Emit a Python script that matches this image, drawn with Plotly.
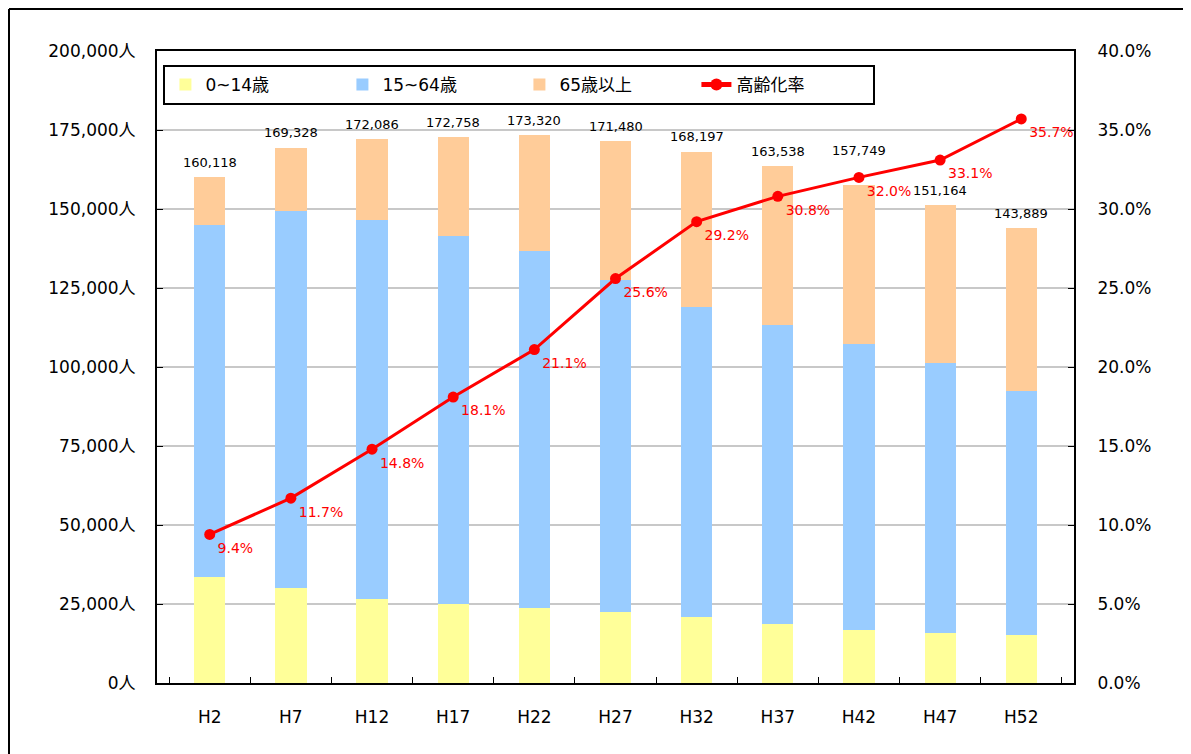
import plotly.graph_objects as go

categories = ["H2", "H7", "H12", "H17", "H22", "H27", "H32", "H37", "H42", "H47", "H52"]
age_0_14 = [33544, 29968, 26487, 24905, 23639, 22563, 20791, 18576, 16772, 15728, 15095]
age_15_64 = [111523, 119549, 120130, 116584, 113110, 105018, 98292, 94592, 90497, 85401, 77426]
age_65_over = [15051, 19811, 25469, 31269, 36571, 43899, 49114, 50370, 50480, 50035, 51368]
totals = [160118, 169328, 172086, 172758, 173320, 171480, 168197, 163538, 157749, 151164, 143889]
aging_rate = [9.4, 11.7, 14.8, 18.1, 21.1, 25.6, 29.2, 30.8, 32.0, 33.1, 35.7]
left_ticks = [0, 25000, 50000, 75000, 100000, 125000, 150000, 175000, 200000]
right_ticks = [0, 5, 10, 15, 20, 25, 30, 35, 40]

FONT = "DejaVu Sans, Noto Sans CJK JP"

# page body has an 8px margin; figure sized to fit the 1191x754 window
W, H = 1183, 746
L, T, R, B = 149, 43, 117, 71
PW, PH = W - L - R, H - T - B

fig = go.Figure()
fig.add_trace(go.Bar(x=categories, y=age_0_14, name="0~14歳",
                     marker=dict(color="#FFFF99", line=dict(width=0))))
fig.add_trace(go.Bar(x=categories, y=age_15_64, name="15~64歳",
                     marker=dict(color="#99CCFF", line=dict(width=0))))
fig.add_trace(go.Bar(x=categories, y=age_65_over, name="65歳以上",
                     marker=dict(color="#FFCC99", line=dict(width=0))))
fig.add_trace(go.Scatter(x=categories, y=aging_rate, name="高齢化率", yaxis="y2",
                         mode="lines+markers+text",
                         line=dict(color="#FF0000", width=3),
                         marker=dict(color="#FF0000", size=11, symbol="circle"),
                         text=[f"{v:.1f}%" for v in aging_rate],
                         textposition="bottom right",
                         textfont=dict(color="#FF0000", size=14, family=FONT)))

for c, t in zip(categories, totals):
    shift = 34 if c == "H42" else 15
    fig.add_annotation(x=c, y=t, text=f"{t:,}", showarrow=False, yshift=shift,
                       font=dict(size=13, color="#000000", family=FONT))

fig.update_layout(
    width=W, height=H,
    margin=dict(l=L, r=R, t=T, b=B),
    barmode="stack", bargap=0.615,
    paper_bgcolor="white", plot_bgcolor="white",
    font=dict(family=FONT, size=16, color="#000000"),
    showlegend=True,
    legend=dict(orientation="h", x=0.007, y=0.978, xanchor="left", yanchor="top",
                bordercolor="#000000", borderwidth=2, bgcolor="white",
                font=dict(size=17, family=FONT),
                entrywidth=132, entrywidthmode="pixels",
                traceorder="normal", itemsizing="constant"),
    xaxis=dict(showline=True, linecolor="#000000", linewidth=2, mirror=True,
               ticks="inside", ticklen=6, tickcolor="#000000", tickson="boundaries",
               ticklabelstandoff=18,
               tickfont=dict(size=17, family=FONT), showgrid=False),
    yaxis=dict(range=[0, 200000], tickvals=left_ticks,
               ticktext=[f"{v:,}人" for v in left_ticks],
               showline=True, linecolor="#000000", linewidth=2,
               ticks="inside", ticklen=6, tickcolor="#000000",
               ticklabelstandoff=16,
               showgrid=True, gridcolor="#C8C8C8", gridwidth=2,
               tickfont=dict(size=17, family=FONT), zeroline=False),
    yaxis2=dict(range=[0, 40], tickvals=right_ticks,
                ticktext=[f"{v:.1f}%" for v in right_ticks],
                overlaying="y", side="right",
                showline=True, linecolor="#000000", linewidth=2,
                ticks="inside", ticklen=6, tickcolor="#000000",
                ticklabelstandoff=18,
                showgrid=False, zeroline=False,
                tickfont=dict(size=17, family=FONT)),
)

# outer frame lines (visible top and left edges)
fx0 = (1 - L) / PW
fy0 = (H - B - 1) / PH
fig.add_shape(type="line", xref="paper", yref="paper",
              x0=fx0, x1=(W - L) / PW, y0=fy0, y1=fy0,
              line=dict(color="#000000", width=2))
fig.add_shape(type="line", xref="paper", yref="paper",
              x0=fx0, x1=fx0, y0=fy0, y1=-B / PH,
              line=dict(color="#000000", width=2))

fig.write_html("out.html")
